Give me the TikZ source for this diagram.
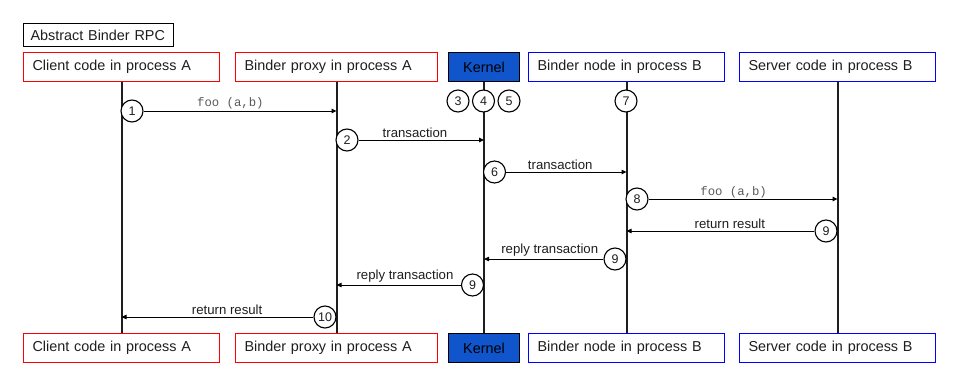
\documentclass[tikz,border=0pt]{standalone}
\usepackage{fontspec}
\setmainfont{Liberation Sans}
\setmonofont{Liberation Mono}
\usetikzlibrary{arrows.meta, positioning}
\definecolor{Ink}{HTML}{1E1E1E}
\definecolor{Red}{HTML}{FF0000}
\definecolor{Blue}{HTML}{0000FF}
\definecolor{KernelBlue}{HTML}{1155CC}
\definecolor{Code}{HTML}{5A5A5A}

\begin{document}
\begin{tikzpicture}[
  x=1pt, y=-1pt,
  font=\fontsize{14.4}{16}\selectfont, text=Ink,
  box/.style={draw=black, line width=1.1pt, anchor=north west, minimum height=29pt, inner xsep=9pt, inner ysep=0pt, align=left, text width=178pt},
  procA/.style={box, draw=Red},
  procB/.style={box, draw=Blue},
  kern/.style={box, fill=KernelBlue, text=black, align=center, text width=53pt},
  lifeline/.style={line width=2pt, draw=Ink},
  stepno/.style={circle, draw=black, line width=1.1pt, fill=white, minimum size=22pt, inner sep=0pt, font=\fontsize{12.5}{12.5}\selectfont},
  msg/.style={-{Triangle[length=5pt, width=4.5pt]}, line width=0.9pt, draw=black},
  lbl/.style={above, inner sep=0pt, yshift=2pt, font=\fontsize{13.2}{14}\selectfont},
  call/.style={lbl, yshift=-1pt, font=\fontsize{12.3}{13}\ttfamily, text=Code}
]
\useasboundingbox (0,0) rectangle (961,388);

% title
\node[box, minimum height=23pt, inner xsep=7pt, text width=136pt] (title) at (23,23) {Abstract Binder RPC};

% participants, top row
\node[procA] (clientT) at (23,52) {Client code in process A};
\node[procA, text width=184pt] (proxyT) at (235,52) {Binder proxy in process A};
\node[kern] (kernelT) at (448,52) {Kernel};
\node[procB] (nodeT) at (528,52) {Binder node in process B};
\node[procB] (serverT) at (739,52) {Server code in process B};

% participants, bottom row
\node[procA] (clientB) at (23,333) {Client code in process A};
\node[procA, text width=184pt] (proxyB) at (235,333) {Binder proxy in process A};
\node[kern] (kernelB) at (448,333) {Kernel};
\node[procB] (nodeB) at (528,333) {Binder node in process B};
\node[procB] (serverB) at (739,333) {Server code in process B};

% lifelines
\draw[lifeline] (clientT) -- (clientB);
\draw[lifeline] (proxyT) -- (proxyB);
\draw[lifeline] (kernelT) -- (kernelB);
\draw[lifeline] (nodeT) -- (nodeB);
\draw[lifeline] (serverT) -- (serverB);

% steps
\node[stepno] (s1) at (132,111) {1};
\node[stepno] (s2) at (347,140) {2};
\node[stepno] (s3) at (458,101) {3};
\node[stepno] (s4) at (483.5,101) {4};
\node[stepno] (s5) at (509,101) {5};
\node[stepno] (s6) at (494.5,172) {6};
\node[stepno] (s7) at (626,101) {7};
\node[stepno] (s8) at (637,199) {8};
\node[stepno] (s9a) at (826,231) {9};
\node[stepno] (s9b) at (615,259) {9};
\node[stepno] (s9c) at (472.5,285) {9};
\node[stepno] (s10) at (325,317) {10};

% messages
\draw[msg] (s1) -- (s1 -| proxyT) node[call, pos=.45] {foo (a,b)};
\draw[msg] (s2) -- (s2 -| kernelT) node[lbl, pos=.45] {transaction};
\draw[msg] (s6) -- (s6 -| nodeT) node[lbl, pos=.45] {transaction};
\draw[msg] (s8) -- (s8 -| serverT) node[call, pos=.45] {foo (a,b)};
\draw[msg] (s9a) -- (s9a -| nodeT) node[lbl, pos=.45] {return result};
\draw[msg] (s9b) -- (s9b -| kernelT) node[lbl, pos=.45] {reply transaction};
\draw[msg] (s9c) -- (s9c -| proxyT) node[lbl, pos=.45] {reply transaction};
\draw[msg] (s10) -- (s10 -| clientT) node[lbl, pos=.45] {return result};
\end{tikzpicture}
\end{document}
